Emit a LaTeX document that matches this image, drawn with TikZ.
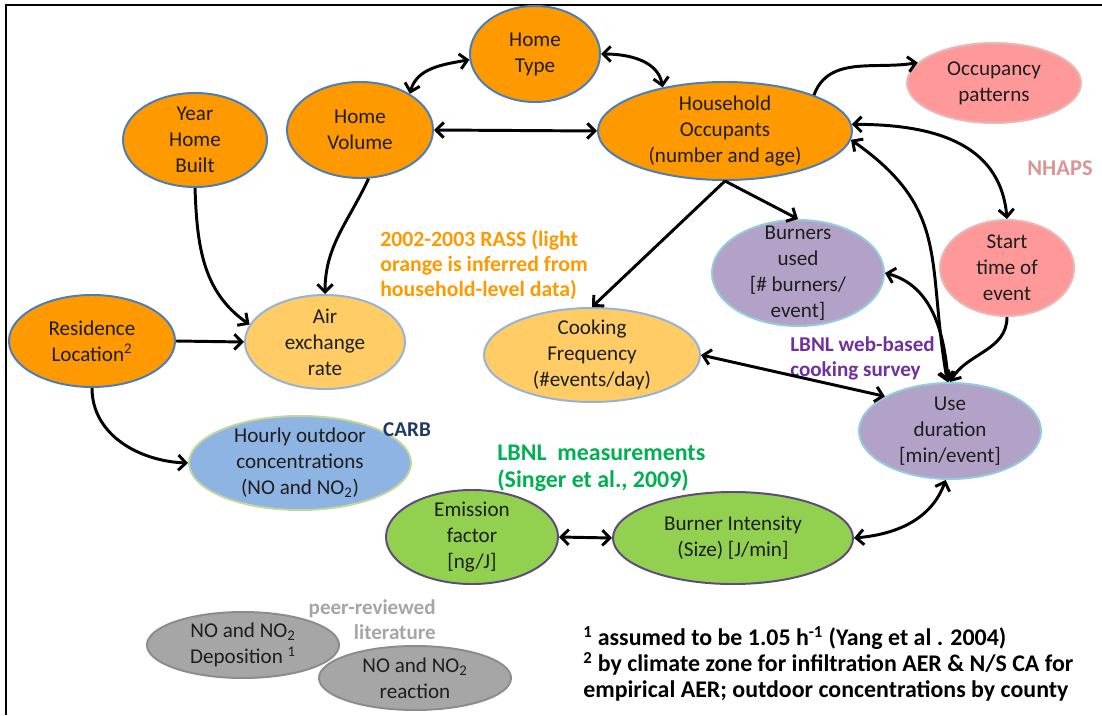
\documentclass[tikz,border=0pt]{standalone}
\usepackage{fontspec}
\setmainfont{Carlito}
\usepackage{tikz}
\usetikzlibrary{arrows.meta,shapes.geometric}
\usepackage{xcolor}
\definecolor{OrangeFill}{HTML}{FF9900}
\definecolor{OrangeLine}{HTML}{4A7EBB}
\definecolor{PaleOrangeFill}{HTML}{FFCC66}
\definecolor{PaleOrangeLine}{HTML}{95B3D7}
\definecolor{SkyFill}{HTML}{8EB4E3}
\definecolor{SkyLine}{HTML}{C3D69B}
\definecolor{LilacFill}{HTML}{B3A2C7}
\definecolor{LilacLine}{HTML}{93CDDD}
\definecolor{PinkFill}{HTML}{FF9999}
\definecolor{PinkLine}{HTML}{E6B9B8}
\definecolor{LeafFill}{HTML}{92D050}
\definecolor{LeafLine}{HTML}{604A7B}
\definecolor{GreyFill}{HTML}{A6A6A6}
\definecolor{GreyLine}{HTML}{8C8C8C}
\definecolor{InkText}{HTML}{1E1E1E}
\definecolor{RassText}{HTML}{FF9900}
\definecolor{CarbText}{HTML}{1F3864}
\definecolor{NhapsText}{HTML}{D99694}
\definecolor{SurveyText}{HTML}{7030A0}
\definecolor{MeasureText}{HTML}{00B050}
\definecolor{PeerText}{HTML}{A6A6A6}
\newcommand\bubblefont{\fontsize{15}{18.5}\selectfont}
\newcommand\sourcefont{\bfseries\fontsize{15}{17.7}\selectfont}
\tikzset{
  bubble/.style={ellipse,line width=1.4pt,inner sep=-2mm,align=center,text=InkText,font=\bubblefont},
  rassnode/.style={bubble,draw=OrangeLine,fill=OrangeFill},
  inferrednode/.style={bubble,draw=PaleOrangeLine,fill=PaleOrangeFill},
  carbnode/.style={bubble,draw=SkyLine,fill=SkyFill},
  surveynode/.style={bubble,draw=LilacLine,fill=LilacFill},
  nhapsnode/.style={bubble,draw=PinkLine,fill=PinkFill},
  measurenode/.style={bubble,draw=LeafLine,fill=LeafFill},
  peernode/.style={bubble,draw=GreyLine,fill=GreyFill},
  link/.style={-{Straight Barb[length=1.9mm,width=3.8mm]},line width=2.1pt},
  twolink/.style={{Straight Barb[length=1.9mm,width=3.8mm]}-{Straight Barb[length=1.9mm,width=3.8mm]},line width=2.1pt},
  sourcelabel/.style={font=\sourcefont,inner sep=0pt}
}
\begin{document}
\begin{tikzpicture}[x=0.025cm,y=-0.025cm]
\useasboundingbox (0,0) rectangle (1102,715);
\draw[line width=2.1pt] (6,715) -- (6,5) -- (1102,5);

% RASS variables
\node[rassnode,minimum width=3.25cm,minimum height=2.4cm] (hometype) at (535,54) {Home\\Type};
\node[rassnode,minimum width=3.65cm,minimum height=2.4cm] (homevol) at (360,130) {Home\\Volume};
\node[rassnode,minimum width=3.6cm,minimum height=2.35cm] (yearbuilt) at (195,140) {Year\\Home\\Built};
\node[rassnode,minimum width=6.35cm,minimum height=2.45cm] (household) at (725,131) {Household\\Occupants\\(number and age)};
\node[rassnode,minimum width=4.15cm,minimum height=2.3cm] (residence) at (92,341) {Residence\\Location\textsuperscript{2}};
\node[inferrednode,minimum width=4cm,minimum height=2.35cm] (airexch) at (325,342) {Air\\exchange\\rate};
\node[inferrednode,minimum width=5.4cm,minimum height=2.35cm] (cooking) at (592,355) {Cooking\\Frequency\\(\#events/day)};

% other sources
\node[nhapsnode,minimum width=4.35cm,minimum height=2cm] (occupancy) at (994,83) {Occupancy\\patterns};
\node[nhapsnode,minimum width=3.35cm,minimum height=2.4cm] (starttime) at (1007,268) {Start\\time of\\event};
\node[surveynode,minimum width=4.3cm,minimum height=2.65cm,inner ysep=-4mm] (burners) at (798,273) {Burners\\used\\{[}\# burners/\\event{]}};
\node[surveynode,minimum width=4.55cm,minimum height=2.4cm] (usedur) at (950,431) {Use\\duration\\{[}min/event{]}};
\node[carbnode,minimum width=5.55cm,minimum height=2.35cm] (hourly) at (300,463) {Hourly outdoor\\concentrations\\(NO and NO\textsubscript{2})};
\node[measurenode,minimum width=4.3cm,minimum height=2.35cm] (emission) at (472,537) {Emission\\factor\\{[}ng/J{]}};
\node[measurenode,minimum width=6cm,minimum height=2.3cm] (intensity) at (733,538) {Burner Intensity\\(Size) {[}J/min{]}};
\node[peernode,minimum width=4.8cm,minimum height=1.65cm] (deposition) at (243,645) {NO and NO\textsubscript{2}\\Deposition \textsuperscript{1}};
\node[peernode,minimum width=4.8cm,minimum height=1.6cm] (reaction) at (415,678) {NO and NO\textsubscript{2}\\reaction};

% source labels
\node[sourcelabel,text=RassText,anchor=west,align=left,font=\bfseries\fontsize{15.5}{17.7}\selectfont] (rasslabel) at (380,265) {2002-2003 RASS (light\\orange is inferred from\\household-level data)};
\node[sourcelabel,text=CarbText] (carblabel) at (407,430) {CARB};
\node[sourcelabel,text=NhapsText,font=\bfseries\fontsize{16}{17.7}\selectfont] (nhapslabel) at (1060,168) {NHAPS};
\node[sourcelabel,text=SurveyText,anchor=west,align=left] (surveylabel) at (790,358) {LBNL web-based\\cooking survey};
\node[sourcelabel,text=MeasureText,anchor=west,align=left,font=\bfseries\fontsize{17}{19}\selectfont] (measurelabel) at (497,468) {LBNL\ \ measurements\\(Singer et al., 2009)};
\node[sourcelabel,text=PeerText,anchor=east,align=right] (peerlabel) at (436,620) {peer-reviewed\\literature};
\node[sourcelabel,anchor=west,align=left,font=\bfseries\fontsize{17}{18.5}\selectfont] (notes) at (583,664)
  {\textsuperscript{1} assumed to be 1.05 h\textsuperscript{-1} (Yang et al . 2004)\\
   \textsuperscript{2} by climate zone for infiltration AER \& N/S CA for\\
   empirical AER; outdoor concentrations by county};

% connectors
\draw[twolink] (homevol.36) to[out=75,in=190] (hometype.185);
\draw[twolink] (hometype.east) to[out=0,in=100] (household.145);
\draw[twolink] (homevol.east) -- (household.west);
\draw[link] (household.22) to[out=70,in=190] (occupancy.165);
\draw[twolink] (household.3) to[out=0,in=95,looseness=1.1] (starttime.north);
\draw[twolink] (household.-4) to[out=-35,in=100,looseness=1.2] (usedur.93);
\draw[twolink] (burners.east) to[out=-15,in=95] (usedur.92);
\draw[link] (starttime.south) to[out=-90,in=60] (usedur.north);
\draw[link] (household.south) -- (burners.north);
\draw[link] (household.south) -- (cooking.north);
\draw[twolink] (cooking.east) -- (usedur.152);
\draw[link] (residence.east) -- (airexch.west);
\draw[link] (yearbuilt.south) to[out=-88,in=145] (airexch.167);
\draw[link] (homevol.-80) to[out=-115,in=90] (airexch.north);
\draw[link] (residence.south) to[out=-90,in=178] (hourly.west);
\draw[twolink] (emission.east) -- (intensity.west);
\draw[twolink] (intensity.east) to[out=5,in=-110] (usedur.-95);
\end{tikzpicture}
\end{document}
